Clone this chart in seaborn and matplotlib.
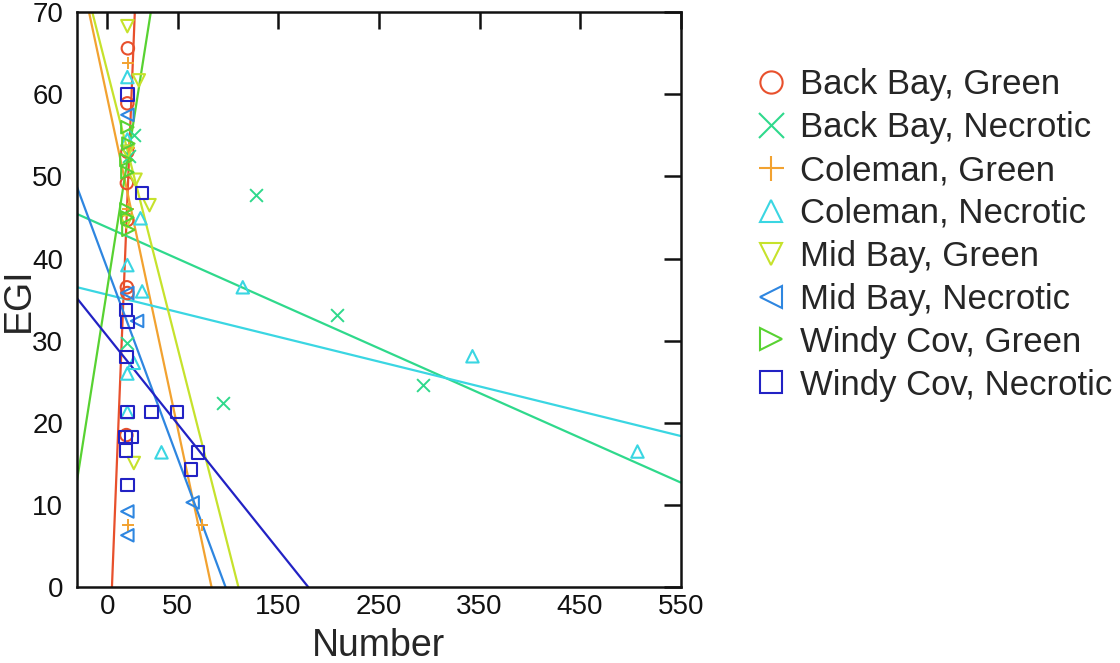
import matplotlib
matplotlib.use("Agg")
import matplotlib.pyplot as plt
import seaborn as sns
import pandas as pd
from matplotlib.lines import Line2D

# ---------------- data ----------------
series_names = ["Back Bay, Green", "Back Bay, Necrotic", "Coleman, Green", "Coleman, Necrotic",
                "Mid Bay, Green", "Mid Bay, Necrotic", "Windy Cov, Green", "Windy Cov, Necrotic"]

bb_green_x = [0.5, 0, 0, -0.5, 0, -0.5, 0, -1]
bb_green_y = [65.6, 58.9, 53.0, 49.2, 44.7, 36.5, 35.8, 18.5]

bb_necrotic_x = [127.9, 208.7, 294.3, 94.9, 6.4, 0, 2]
bb_necrotic_y = [47.7, 33.1, 24.6, 22.4, 55.0, 29.7, 52.5]

col_green_x = [0.8, 74, 0.5, 2, 1]
col_green_y = [7.5, 7.5, 63.8, 53.5, 46.0]

col_necrotic_x = [114.7, 343, 507, 33.9, 13, 14.7, 0, 6.4, 0, 0, 0, 0]
col_necrotic_y = [36.5, 28.1, 16.5, 16.4, 44.9, 36.0, 39.2, 27.3, 26.0, 21.3, 62.1, 54.5]

mb_green_x = [0, 11.4, 8.1, 22, 6.4, 0, -1]
mb_green_y = [68.3, 61.7, 49.6, 46.5, 15.1, 53.0, 44.5]

mb_necrotic_x = [64.9, 0, 0, 9.7, 0, 0]
mb_necrotic_y = [10.3, 9.2, 6.3, 32.4, 57.5, 35.8]

wc_green_x = [0, 1, -1, 0, -1, 0, 1]
wc_green_y = [56, 54, 52, 50.5, 46, 45, 43.5]

wc_necrotic_x = [0, 14.7, -1.5, 0, -1, 0, 24, 49.3, -1.8, 4.2, -1.2, 70.1, 63.2, 0]
wc_necrotic_y = [60, 48, 33.7, 32.3, 28, 21.3, 21.3, 21.3, 18.3, 18.3, 16.6, 16.4, 14.3, 12.4]

# fitted regression lines (intercept at Number = 0, slope)
fit_intercepts = [47.2, 42.7, 48.1, 35.0, 53.2, 32.2, 51.9, 27.5]
fit_slopes = [3.08, -0.0545, -0.575, -0.0302, -0.482, -0.33, 0.778, -0.153]

x_ticks = [50, 150, 250, 350, 450, 550]
y_ticks = [0, 10, 20, 30, 40, 50, 60, 70]

# ---------------- style ----------------
colors = ["#e8502c", "#2fd98c", "#f2a230", "#3ad6e2", "#c6e22c", "#2e86e0", "#58d232", "#2222c4"]
markers = ["o", "x", "+", "^", "v", "<", ">", "s"]

xs = [bb_green_x, bb_necrotic_x, col_green_x, col_necrotic_x, mb_green_x, mb_necrotic_x, wc_green_x, wc_necrotic_x]
ys = [bb_green_y, bb_necrotic_y, col_green_y, col_necrotic_y, mb_green_y, mb_necrotic_y, wc_green_y, wc_necrotic_y]

sns.set_style("white")
plt.rcParams["font.family"] = ["Liberation Sans", "DejaVu Sans"]

fig = plt.figure(figsize=(11.2, 6.63), dpi=100)
ax = fig.add_axes([0.0688, 0.1146, 0.539, 0.867])

# regression lines
for b, m, c in zip(fit_intercepts, fit_slopes, colors):
    ax.axline((0, b), slope=m, color=c, lw=1.6, zorder=2)

# points
for name, x, y, c, mk in zip(series_names, xs, ys, colors, markers):
    df = pd.DataFrame({"Number": x, "EGI": y})
    if mk in ("x", "+"):
        sns.scatterplot(data=df, x="Number", y="EGI", ax=ax, marker=mk, color=c,
                        s=85, linewidth=1.4, zorder=3, legend=False)
    else:
        sns.scatterplot(data=df, x="Number", y="EGI", ax=ax, marker=mk, color=c,
                        facecolors="none", edgecolor=c, s=80, linewidth=1.5,
                        zorder=3, legend=False)

ax.set_xlim(-50, 550)
ax.set_ylim(0, 70)

# x ticks: a "0" label with no tick mark, then 50, 150, ...
ax.set_xticks([-20] + x_ticks)
ax.set_xticklabels(["0"] + [str(t) for t in x_ticks])
first = ax.xaxis.get_major_ticks()[0]
first.tick1line.set_visible(False)
first.tick2line.set_visible(False)
ax.set_yticks(y_ticks)
ax.set_yticklabels([str(t) for t in y_ticks])

ax.tick_params(axis="both", direction="in", length=12, width=1.8, labelsize=20,
               top=True, right=True, colors="#111111", labelcolor="#111111")
ax.tick_params(axis="x", pad=5)
ax.tick_params(axis="y", pad=10)
for sp in ax.spines.values():
    sp.set_linewidth(1.8)
    sp.set_color("#111111")

ax.set_xlabel("Number", fontsize=27)
ax.set_ylabel("EGI", fontsize=27)
ax.xaxis.set_label_coords(0.5, -0.072)
ax.yaxis.set_label_coords(-0.066, 0.5)

handles = []
for name, c, mk in zip(series_names, colors, markers):
    if mk in ("x", "+"):
        h = Line2D([], [], linestyle="none", marker=mk, color=c, markersize=18, markeredgewidth=1.5)
    else:
        h = Line2D([], [], linestyle="none", marker=mk, markerfacecolor="none",
                   markeredgecolor=c, markersize=16, markeredgewidth=1.5)
    handles.append(h)
leg = fig.legend(handles, series_names, loc="upper left", bbox_to_anchor=(0.657, 0.918),
                 frameon=False, fontsize=25, labelspacing=0.285, handletextpad=0.25,
                 handlelength=1.2, borderaxespad=0)

fig.savefig("out.png", dpi=100)
